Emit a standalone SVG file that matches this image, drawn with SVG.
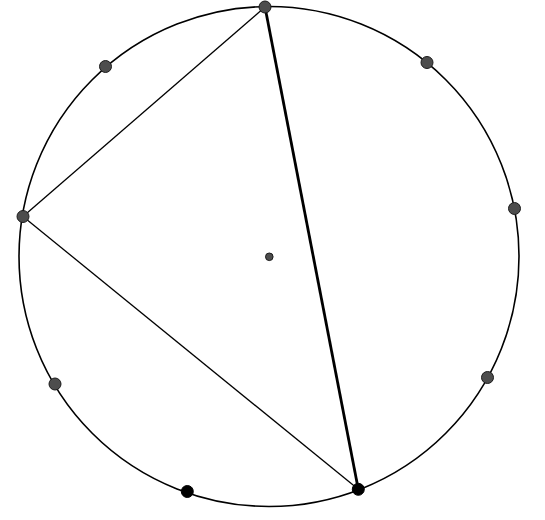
<svg xmlns="http://www.w3.org/2000/svg" width="545" height="520" viewBox="0 0 545 520">
<style>
.pt{fill:#4d4d4d;stroke:#1a1a1a;stroke-width:1}
.bk{fill:#000;stroke:#000;stroke-width:1}
.ln{stroke:#000;stroke-width:1.3;fill:none}
.thick{stroke-width:2.8}
</style>
<rect width="545" height="520" fill="#fff"/>
<g id="circle"><circle cx="269" cy="256.5" r="250" fill="none" stroke="#000" stroke-width="1.6"/></g>
<g id="connectors">
<line class="ln" x1="265" y1="7" x2="23" y2="216.5"/>
<line class="ln" x1="23" y1="216.5" x2="358.3" y2="489.3"/>
<line class="ln thick" x1="265" y1="7" x2="358.3" y2="489.3"/>
</g>
<g id="center"><circle cx="269.3" cy="256.8" r="3.8" class="pt"/></g>
<g id="p1"><circle cx="265" cy="7" r="6" class="pt"/></g>
<g id="p2"><circle cx="105.5" cy="66.5" r="6" class="pt"/></g>
<g id="p3"><circle cx="427" cy="62.5" r="6" class="pt"/></g>
<g id="p4"><circle cx="23" cy="216.5" r="6" class="pt"/></g>
<g id="p5"><circle cx="514.5" cy="208.5" r="6" class="pt"/></g>
<g id="p6"><circle cx="55" cy="384" r="6" class="pt"/></g>
<g id="p7"><circle cx="487.5" cy="377.5" r="6" class="pt"/></g>
<g id="p8"><circle cx="187.3" cy="491.5" r="6" class="bk"/></g>
<g id="p9"><circle cx="358.3" cy="489.3" r="6" class="bk"/></g>
</svg>
